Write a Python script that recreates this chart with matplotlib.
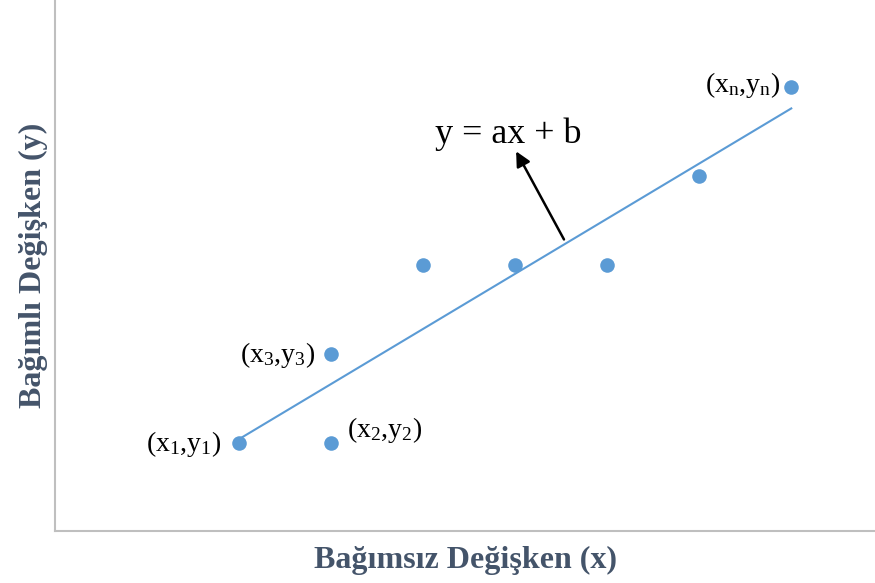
import numpy as np
import matplotlib.pyplot as plt

plt.rcParams['font.family'] = 'Liberation Serif'
plt.rcParams['mathtext.fontset'] = 'custom'
plt.rcParams['mathtext.rm'] = 'Liberation Serif'
plt.rcParams['mathtext.it'] = 'Liberation Serif:italic'

# observations
x = [2, 3, 3, 4, 5, 6, 7, 8]
y = [1, 1, 2, 3, 3, 3, 4, 5]

# labelled points: (index, text, pixel offset, ha)
point_labels = [
    (0, '(x$_1$,y$_1$)', (-18, -1), 'right'),
    (1, '(x$_2$,y$_2$)', (16, 13), 'left'),
    (2, '(x$_3$,y$_3$)', (-16, -1), 'right'),
    (7, '(x$_{\\mathrm{n}}$,y$_{\\mathrm{n}}$)', (-11, 2), 'right'),
]

blue = '#5B9BD5'
slate = '#44546A'

fig = plt.figure(figsize=(8.75, 5.83), dpi=100)
ax = fig.add_axes([0.063, 0.09, 0.937, 0.91])

# least squares trend line
a, b = np.polyfit(x, y, 1)
xl = np.array([min(x), max(x)])
ax.plot(xl, a * xl + b, color=blue, linewidth=1.5, zorder=2)

ax.scatter(x, y, s=110, color=blue, zorder=3, linewidths=0)

for i, txt, off, ha in point_labels:
    ax.annotate(txt, (x[i], y[i]), xytext=off, textcoords='offset pixels',
                ha=ha, va='center', fontsize=20)

# arrow pointing from the trend line to the equation
ax.annotate('', xy=(5.01, 4.28), xytext=(5.53, 3.29),
            arrowprops=dict(arrowstyle='-|>', color='black', lw=1.8,
                            mutation_scale=22, shrinkA=0, shrinkB=0))
ax.text(4.92, 4.47, 'y = ax + b', ha='center', va='center', fontsize=26)

ax.set_xlim(0, 8.91)
ax.set_ylim(0.02, 5.98)
ax.set_xticks([])
ax.set_yticks([])
for side in ['top', 'right']:
    ax.spines[side].set_visible(False)
for side in ['left', 'bottom']:
    ax.spines[side].set_color('#BFBFBF')
    ax.spines[side].set_linewidth(1.5)

ax.set_xlabel('Bağımsız Değişken (x)', fontsize=23, fontweight='bold',
              color=slate, labelpad=11)
ax.set_ylabel('Bağımlı Değişken (y)', fontsize=23, fontweight='bold',
              color=slate, labelpad=5)

fig.savefig('out.png', dpi=100)
